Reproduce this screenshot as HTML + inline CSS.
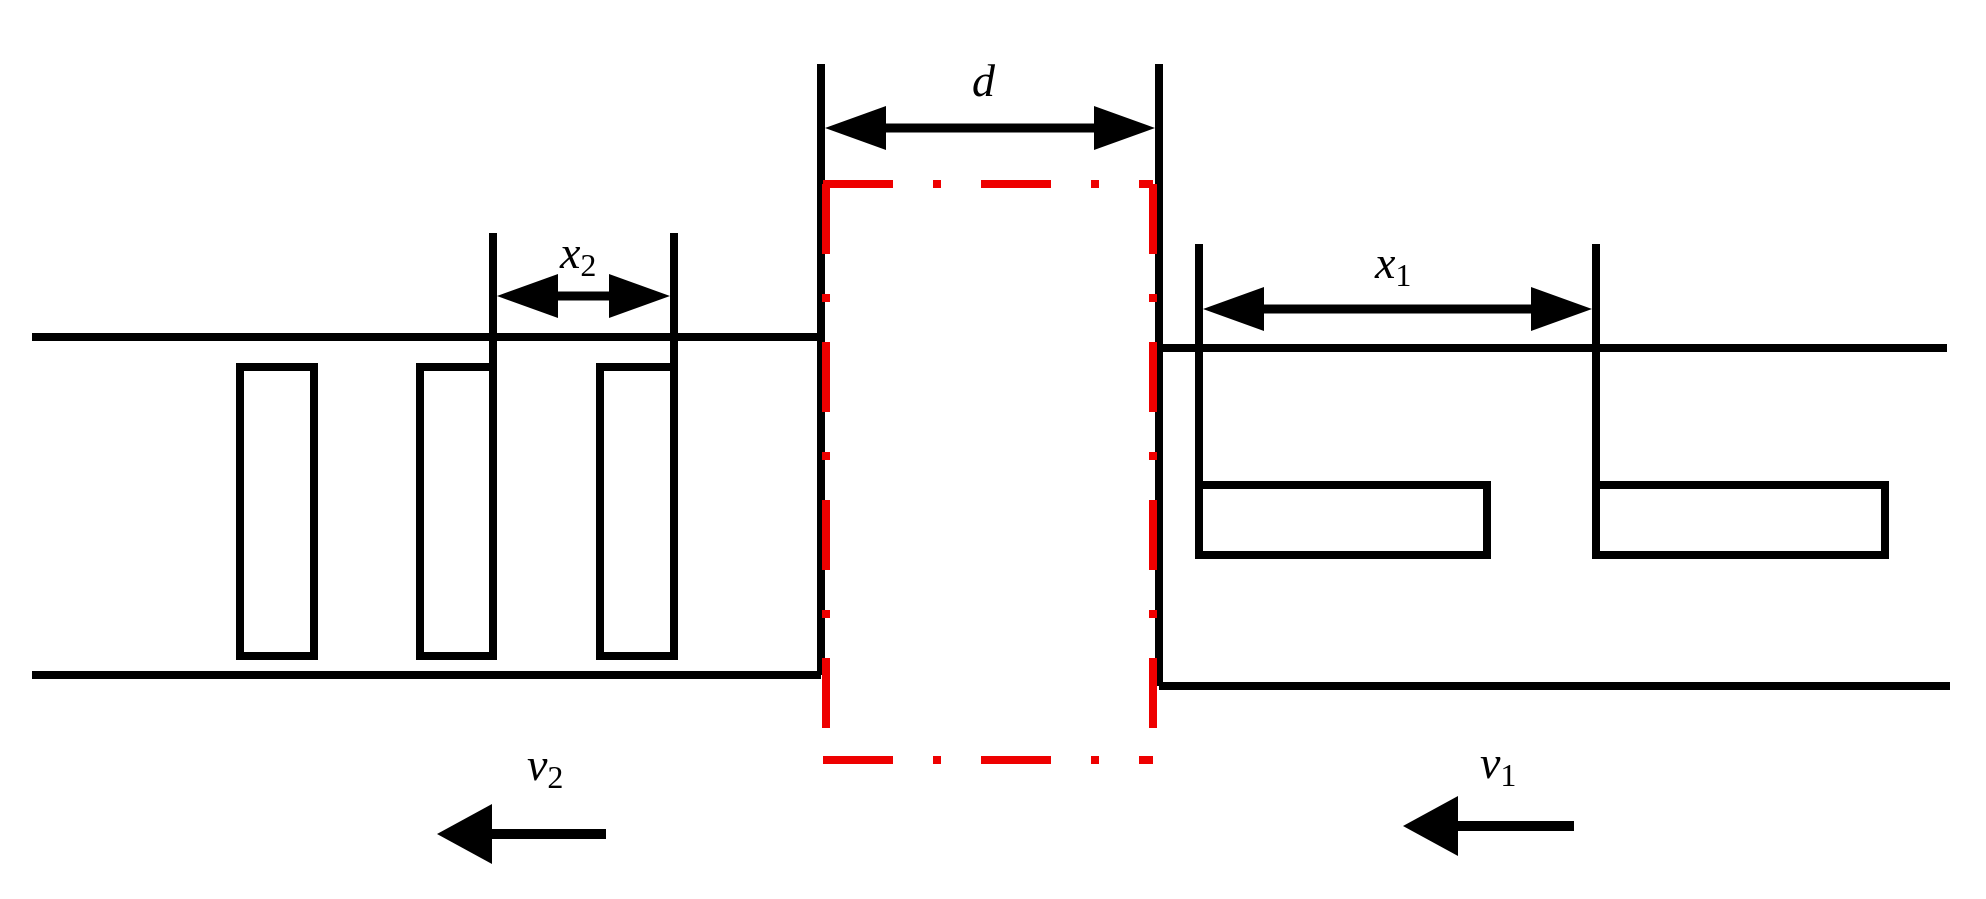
<!DOCTYPE html>
<html><head><meta charset="utf-8"><style>html,body{margin:0;padding:0;background:#fff}svg{display:block}</style></head>
<body>
<svg width="1986" height="899" viewBox="0 0 1986 899" xmlns="http://www.w3.org/2000/svg">
<g stroke="#000" stroke-width="8" fill="none">
<line x1="32" y1="337" x2="821" y2="337"/>
<line x1="32" y1="675" x2="821" y2="675"/>
<line x1="821" y1="64" x2="821" y2="675"/>
<line x1="1159" y1="64" x2="1159" y2="686"/>
<line x1="1159" y1="348" x2="1947" y2="348"/>
<line x1="1159" y1="686" x2="1950" y2="686"/>
<rect x="240" y="367" width="74" height="289"/>
<rect x="420" y="367" width="73" height="289"/>
<rect x="600" y="367" width="74" height="289"/>
<line x1="493" y1="233" x2="493" y2="367"/>
<line x1="674" y1="233" x2="674" y2="367"/>
<line x1="1199" y1="244" x2="1199" y2="483"/>
<line x1="1596" y1="244" x2="1596" y2="483"/>
<rect x="1199" y="485" width="288" height="70"/>
<rect x="1596" y="485" width="289" height="70"/>
<line x1="860" y1="128" x2="1120" y2="128" stroke-width="9"/>
<line x1="530" y1="296" x2="640" y2="296" stroke-width="9"/>
<line x1="1240" y1="309" x2="1556" y2="309" stroke-width="9"/>
<line x1="470" y1="834" x2="606" y2="834" stroke-width="10"/>
<line x1="1440" y1="826" x2="1574" y2="826" stroke-width="10"/>
</g>
<g fill="#000">
<polygon points="825,128 886,106 886,150"/>
<polygon points="1155,128 1094,106 1094,150"/>
<polygon points="497,296 558,274 558,318"/>
<polygon points="670,296 609,274 609,318"/>
<polygon points="1203,309 1264,287 1264,331"/>
<polygon points="1592,309 1531,287 1531,331"/>
<polygon points="437,834 492,804 492,864"/>
<polygon points="1403,826 1458,796 1458,856"/>
</g>
<g stroke="#e00" stroke-width="8" fill="none" stroke-dasharray="70,40,8,40">
<line x1="823" y1="184" x2="1153" y2="184"/>
<line x1="823" y1="760" x2="1153" y2="760"/>
<line x1="826" y1="184" x2="826" y2="760"/>
<line x1="1153" y1="184" x2="1153" y2="760"/>
</g>
<g font-family="Liberation Serif, serif" font-style="italic" font-size="46" fill="#000">
<text x="972" y="96">d</text>
<text x="560" y="268">x<tspan font-style="normal" font-size="32" dy="8">2</tspan></text>
<text x="1375" y="278">x<tspan font-style="normal" font-size="32" dy="8">1</tspan></text>
<text x="527" y="780">v<tspan font-style="normal" font-size="32" dy="8">2</tspan></text>
<text x="1480" y="778">v<tspan font-style="normal" font-size="32" dy="8">1</tspan></text>
</g>
</svg>
</body></html>
